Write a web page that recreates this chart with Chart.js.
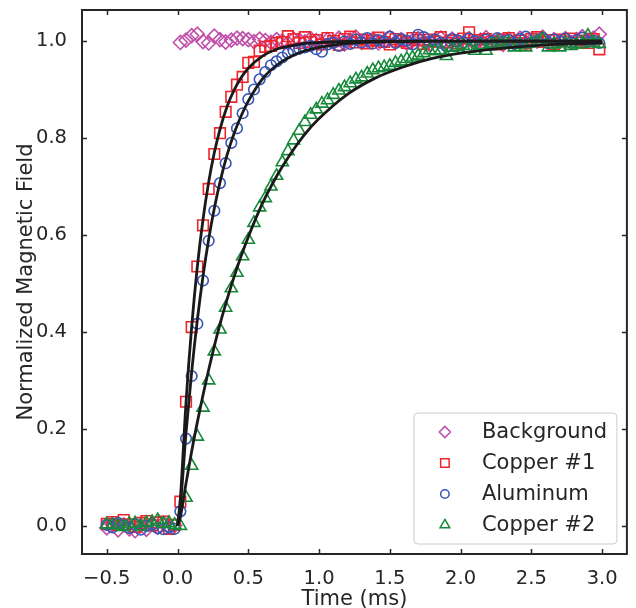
<!DOCTYPE html>
<html>
<head>
<meta charset="utf-8">
<script src="https://cdn.jsdelivr.net/npm/chart.js@4.4.1/dist/chart.umd.min.js"></script>
<style>
  html, body { margin: 0; padding: 0; background: #fff; }
  #wrap { width: 636px; height: 608px; }
</style>
</head>
<body>
<div id="wrap"><canvas id="fieldChart" width="636" height="608"></canvas></div>
<script>
// measured samples (ms), step 0.04
const time = [
  -0.50, -0.46, -0.42, -0.38, -0.34, -0.30, -0.26, -0.22, -0.18, -0.14, -0.10, -0.06, -0.02,
  0.02, 0.06, 0.10, 0.14, 0.18, 0.22, 0.26, 0.30, 0.34, 0.38, 0.42, 0.46, 0.50, 0.54, 0.58, 0.62, 0.66, 0.70, 0.74, 0.78, 0.82, 0.86, 0.90, 0.94, 0.98,
  1.02, 1.06, 1.10, 1.14, 1.18, 1.22, 1.26, 1.30, 1.34, 1.38, 1.42, 1.46, 1.50, 1.54, 1.58, 1.62, 1.66, 1.70, 1.74, 1.78, 1.82, 1.86, 1.90, 1.94, 1.98,
  2.02, 2.06, 2.10, 2.14, 2.18, 2.22, 2.26, 2.30, 2.34, 2.38, 2.42, 2.46, 2.50, 2.54, 2.58, 2.62, 2.66, 2.70, 2.74, 2.78, 2.82, 2.86, 2.90, 2.94, 2.98
];

const background = [
  -0.004, 0.003, -0.008, 0.002, -0.006, -0.010, 0.001, -0.007, 0.004, -0.003, 0.006, -0.002, 0.001,
  0.997, 1.002, 1.011, 1.014, 0.999, 0.996, 1.010, 1.003, 0.998, 1.002, 1.006, 1.005, 1.003, 0.999, 1.004, 1.001, 0.997, 1.003, 1.000, 0.996, 1.004, 1.002, 0.998, 1.005, 1.001,
  0.995, 1.003, 0.999, 1.006, 0.994, 1.002, 1.008, 0.997, 1.001, 1.004, 0.996, 1.000, 1.007, 0.998, 1.003, 0.995, 1.001, 1.005, 0.999, 0.993, 1.002, 1.006, 0.997, 1.004, 1.000,
  0.998, 1.005, 0.994, 1.002, 1.007, 0.997, 1.001, 0.993, 1.004, 0.999, 1.006, 0.996, 1.002, 1.000, 1.008, 0.995, 1.003, 0.999, 1.005, 0.997, 1.003, 1.009, 1.002, 1.006, 1.014
];

const copper1 = [
  0.004, 0.008, 0.002, 0.012, 0.003, -0.002, 0.006, 0.010, 0.001, 0.007, 0.009, -0.006, 0.002,
  0.050, 0.256, 0.410, 0.535, 0.620, 0.695, 0.767, 0.810, 0.854, 0.885, 0.910, 0.926, 0.955, 0.957, 0.980, 0.988, 0.990, 0.996, 0.998, 1.010, 1.004, 0.996, 1.008, 0.998, 1.002,
  0.993, 1.006, 1.000, 0.992, 1.004, 1.009, 0.997, 1.003, 0.995, 1.001, 1.007, 0.998, 0.993, 1.004, 1.000, 0.996, 1.006, 1.002, 0.994, 1.003, 0.999, 1.008, 0.997, 1.001, 0.995,
  1.005, 1.018, 1.002, 0.996, 1.004, 0.999, 0.993, 1.003, 1.006, 0.997, 1.001, 0.995, 1.004, 1.008, 0.998, 1.002, 0.994, 1.003, 0.999, 1.005, 0.997, 1.001, 0.996, 1.004, 0.983
];

const aluminum = [
  0.002, -0.003, 0.006, 0.001, -0.004, 0.003, -0.008, 0.000, 0.002, -0.005, -0.007, -0.003, -0.006,
  0.030, 0.180, 0.309, 0.417, 0.506, 0.588, 0.650, 0.707, 0.748, 0.790, 0.820, 0.851, 0.880, 0.900, 0.921, 0.936, 0.950, 0.958, 0.966, 0.975, 0.980, 0.984, 0.987, 0.990, 0.983,
  0.978, 0.993, 0.996, 0.990, 0.999, 0.994, 1.003, 0.997, 1.006, 0.995, 1.002, 0.998, 1.009, 0.996, 1.004, 1.001, 0.993, 1.013, 1.008, 0.999, 1.003, 0.996, 0.989, 1.004, 1.001,
  0.997, 1.005, 1.000, 0.995, 1.003, 0.998, 1.006, 0.999, 1.002, 0.994, 1.004, 1.009, 0.997, 1.001, 1.006, 0.996, 1.003, 0.999, 1.005, 0.997, 1.002, 1.007, 0.998, 1.001, 0.996
];

const copper2 = [
  0.003, 0.002, 0.001, -0.002, 0.004, 0.005, -0.001, 0.006, 0.008, 0.012, 0.004, 0.006, 0.002,
  0.000, 0.058, 0.124, 0.184, 0.244, 0.300, 0.360, 0.405, 0.450, 0.490, 0.522, 0.556, 0.590, 0.625, 0.657, 0.676, 0.700, 0.722, 0.750, 0.773, 0.795, 0.815, 0.833, 0.848, 0.859,
  0.871, 0.878, 0.889, 0.898, 0.905, 0.913, 0.921, 0.925, 0.933, 0.940, 0.944, 0.946, 0.949, 0.955, 0.958, 0.963, 0.966, 0.970, 0.975, 0.981, 0.979, 0.981, 0.969, 0.986, 0.988,
  0.990, 0.985, 0.980, 0.991, 0.980, 0.993, 0.998, 0.994, 0.996, 0.987, 0.992, 0.987, 0.995, 0.999, 1.004, 0.987, 0.993, 0.987, 0.996, 0.990, 0.993, 0.994, 1.011, 0.996, 0.994
];

// exponential fits, evaluated on a coarser grid
const fitTime = [0, 0.02, 0.06, 0.10, 0.14, 0.18, 0.22, 0.26, 0.30, 0.35, 0.40, 0.45, 0.50, 0.60, 0.70, 0.80, 0.90, 1.00, 1.20, 1.40, 1.60, 1.80, 2.00, 2.25, 2.50, 2.75, 3.00];
const fitCopper1 = [0, 0.057, 0.255, 0.411, 0.535, 0.632, 0.709, 0.770, 0.818, 0.865, 0.899, 0.925, 0.944, 0.969, 0.983, 0.990, 0.995, 0.997, 0.999, 1.000, 1.000, 1.000, 1.000, 1.000, 1.000, 1.000, 1.000];
const fitAluminum = [0, 0.042, 0.192, 0.318, 0.425, 0.515, 0.591, 0.655, 0.709, 0.765, 0.810, 0.846, 0.876, 0.922, 0.950, 0.968, 0.980, 0.987, 0.995, 0.998, 0.999, 1.000, 1.000, 1.000, 1.000, 1.000, 1.000];
const fitCopper2 = [0, 0.018, 0.088, 0.154, 0.214, 0.270, 0.322, 0.371, 0.416, 0.467, 0.514, 0.557, 0.596, 0.665, 0.721, 0.768, 0.808, 0.840, 0.890, 0.924, 0.947, 0.964, 0.975, 0.984, 0.990, 0.994, 0.996];

const xTicks = [-0.5, 0.0, 0.5, 1.0, 1.5, 2.0, 2.5, 3.0];
const yTicks = [0.0, 0.2, 0.4, 0.6, 0.8, 1.0];

const ink = '#262626';
const family = '"DejaVu Sans", sans-serif';

const markerSets = [
  { label: 'Background', values: background, color: '#c04fa8', style: 'rectRot', radius: 7 },
  { label: 'Copper #1', values: copper1, color: '#f0242c', style: 'rect', radius: 7.5 },
  { label: 'Aluminum', values: aluminum, color: '#3a55b4', style: 'circle', radius: 5.3 },
  { label: 'Copper #2', values: copper2, color: '#168a3a', style: 'triangle', radius: 7 }
];

const toPoints = (xs, ys) => xs.map((x, i) => ({ x: x, y: ys[i] }));

const fitSets = [fitCopper1, fitAluminum, fitCopper2].map(vals => ({
  data: toPoints(fitTime, vals),
  showLine: true,
  borderColor: '#1a1a1a',
  borderWidth: 2.8,
  pointRadius: 0,
  cubicInterpolationMode: 'monotone',
  order: 0
}));

const scatterSets = markerSets.map((s, i) => ({
  label: s.label,
  data: toPoints(time, s.values),
  showLine: false,
  pointStyle: s.style,
  pointRadius: s.radius,
  pointBorderWidth: 1.6,
  pointBorderColor: s.color,
  pointBackgroundColor: 'rgba(0,0,0,0)',
  order: markerSets.length - i
}));

const fmt = v => v.toFixed(1).replace('-', '\u2212');

// frame with inward ticks on all four sides
const frame = {
  id: 'frame',
  afterDatasetsDraw(chart) {
    const { ctx, chartArea: a, scales } = chart;
    const len = 5;
    ctx.save();
    ctx.strokeStyle = ink;
    ctx.lineWidth = 1.5;
    ctx.beginPath();
    xTicks.forEach(v => {
      const px = Math.round(scales.x.getPixelForValue(v)) + 0.5;
      ctx.moveTo(px, a.bottom); ctx.lineTo(px, a.bottom - len);
      ctx.moveTo(px, a.top); ctx.lineTo(px, a.top + len);
    });
    yTicks.forEach(v => {
      const py = Math.round(scales.y.getPixelForValue(v)) + 0.5;
      ctx.moveTo(a.left, py); ctx.lineTo(a.left + len, py);
      ctx.moveTo(a.right, py); ctx.lineTo(a.right - len, py);
    });
    ctx.stroke();
    ctx.lineWidth = 2;
    ctx.strokeRect(a.left, a.top, a.right - a.left, a.bottom - a.top);
    ctx.restore();
  }
};

// legend box in the lower right corner of the plot
const legendBox = {
  id: 'legendBox',
  afterDraw(chart) {
    const { ctx, chartArea: a } = chart;
    const w = 203, h = 131, r = 4;
    const x0 = a.right - 10 - w, y0 = a.bottom - 10 - h;
    ctx.save();
    ctx.beginPath();
    ctx.moveTo(x0 + r, y0);
    ctx.arcTo(x0 + w, y0, x0 + w, y0 + h, r);
    ctx.arcTo(x0 + w, y0 + h, x0, y0 + h, r);
    ctx.arcTo(x0, y0 + h, x0, y0, r);
    ctx.arcTo(x0, y0, x0 + w, y0, r);
    ctx.closePath();
    ctx.fillStyle = 'rgba(255,255,255,0.8)';
    ctx.fill();
    ctx.strokeStyle = '#cccccc';
    ctx.lineWidth = 1;
    ctx.stroke();

    ctx.font = '21px ' + family;
    ctx.textBaseline = 'middle';
    ctx.textAlign = 'left';
    markerSets.forEach((s, i) => {
      const cy = y0 + 19 + i * 31;
      ctx.strokeStyle = s.color;
      ctx.fillStyle = 'rgba(0,0,0,0)';
      ctx.lineWidth = 1.5;
      Chart.helpers.drawPoint(ctx, { pointStyle: s.style, radius: s.radius * 0.8, rotation: 0, borderWidth: 1.5 }, x0 + 31, cy);
      ctx.fillStyle = ink;
      ctx.fillText(s.label, x0 + 68, cy + 1);
    });
    ctx.restore();
  }
};

const tickFont = { family: family, size: 19.5 };
const titleFont = { family: family, size: 21 };

// keep the plot box fixed: no extra room for overhanging end labels
const noOverhang = s => { s.paddingTop = 0; s.paddingBottom = 0; s.paddingLeft = 0; s.paddingRight = 0; };

new Chart(document.getElementById('fieldChart'), {
  type: 'scatter',
  data: { datasets: fitSets.concat(scatterSets) },
  options: {
    responsive: false,
    animation: false,
    devicePixelRatio: 1,
    layout: { padding: { top: 10, right: 7, left: 0, bottom: 0 } },
    plugins: { legend: { display: false }, tooltip: { enabled: false } },
    scales: {
      x: {
        type: 'linear',
        min: -0.675,
        max: 3.175,
        grid: { display: false },
        border: { display: false },
        afterFit: s => { s.height = 54; noOverhang(s); },
        afterBuildTicks: s => { s.ticks = xTicks.map(v => ({ value: v })); },
        ticks: { font: tickFont, color: ink, padding: 5, maxRotation: 0, autoSkip: false, callback: v => fmt(v) },
        title: { display: true, text: 'Time (ms)', font: titleFont, color: ink, padding: { top: 0, bottom: -4 } }
      },
      y: {
        type: 'linear',
        min: -0.058,
        max: 1.064,
        grid: { display: false },
        border: { display: false },
        afterFit: s => { s.width = 82; noOverhang(s); },
        afterBuildTicks: s => { s.ticks = yTicks.map(v => ({ value: v })); },
        ticks: { font: tickFont, color: ink, padding: 7, autoSkip: false, callback: v => fmt(v) },
        title: { display: true, text: 'Normalized Magnetic Field', font: titleFont, color: ink, padding: { top: 14, bottom: 0 } }
      }
    }
  },
  plugins: [frame, legendBox]
});
</script>
</body>
</html>
